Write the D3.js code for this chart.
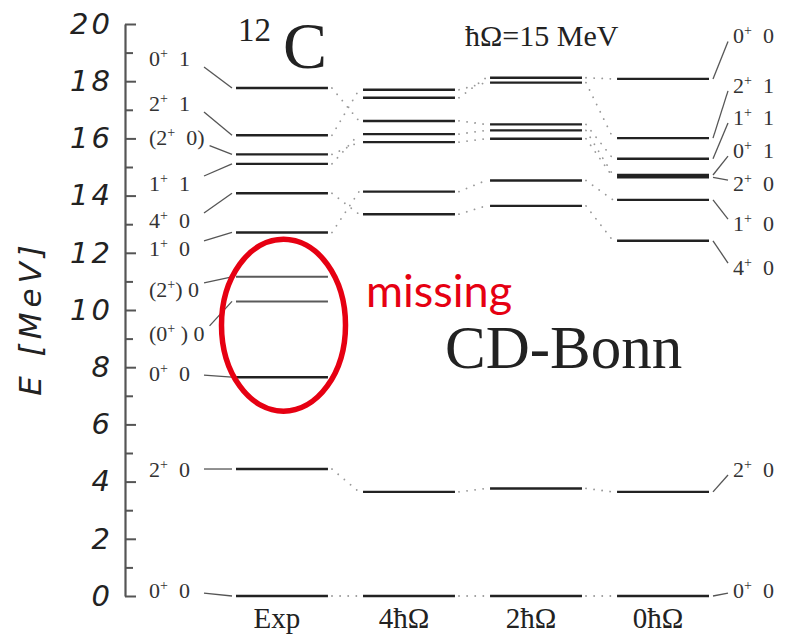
<!DOCTYPE html>
<html><head><meta charset="utf-8">
<script src="https://cdn.jsdelivr.net/npm/d3@7"></script>
<style>
  body { margin: 0; background: #fff; }
  text { white-space: pre; }
</style>
</head><body>
<svg id="chart" width="788" height="636"></svg>
<script>
// 12C spectrum: experiment vs. no-core shell model (CD-Bonn), hΩ = 15 MeV
const columns = ["Exp", "4ħΩ", "2ħΩ", "0ħΩ"];

// Experimental levels (MeV) with J^π T labels and label anchor energies
const expLevels = [0, 4.44, 7.65, 10.3, 11.16, 12.71, 14.08, 15.11, 15.44, 16.11, 17.76];
const expLabels = ["0^+  0", "2^+  0", "0^+  0", "(0^+ ) 0", "(2^+) 0", "1^+  0", "4^+  0", "1^+  1", "(2^+  0)", "2^+  1", "0^+  1"];
const expLabelAt = [0.2, 4.44, 7.8, 9.2, 10.73, 12.17, 13.15, 14.44, 16.05, 17.24, 18.81];

// Calculated levels (MeV)
const levels4 = [0, 3.64, 13.35, 14.14, 15.87, 16.15, 16.61, 17.42, 17.70];
const levels2 = [0, 3.76, 13.64, 14.53, 15.99, 16.28, 16.49, 17.95, 18.12];
const levels0 = [0, 3.64, 12.42, 13.85, 14.64, 14.72, 15.29, 16.01, 18.08];
const calcLabels = ["0^+  0", "2^+  0", "4^+  0", "1^+  0", "2^+  0", "0^+  1", "1^+  1", "2^+  1", "0^+  0"];
const calcLabelAt = [0.2, 4.44, 11.5, 13.04, 14.44, 15.59, 16.75, 17.87, 19.6];

// Correspondences between neighbouring columns: [index in left column, index in right column]
const linksExpTo4 = [[0, 0], [1, 1], [5, 3], [6, 2], [7, 5], [8, 4], [9, 8], [10, 6]];
const links4To2 = [[0, 0], [1, 1], [2, 2], [3, 3], [4, 4], [5, 5], [6, 6], [7, 8], [8, 7]];
const links2To0 = [[0, 0], [1, 1], [2, 2], [3, 3], [4, 4], [5, 5], [6, 6], [7, 7], [8, 8]];

// Axis ticks
const majorTicks = [0, 2, 4, 6, 8, 10, 12, 14, 16, 18, 20];
const minorTicks = [1, 3, 5, 7, 9, 11, 13, 15, 17, 19];

const columnLevels = [expLevels, levels4, levels2, levels0];
const columnLinks = [linksExpTo4, links4To2, links2To0];
const faintExp = [3, 4];

const svg = d3.select("#chart");
const y = d3.scaleLinear().domain([0, 20]).range([596, 24]);
const x = d3.scaleBand().domain(columns).range([236, 709]).paddingInner(0.276).paddingOuter(0);
const x0 = c => x(c);
const x1 = c => x(c) + x.bandwidth();

const serif = "'Liberation Serif', 'Times New Roman', serif";

// Vertical axis
const axisG = svg.append("g").attr("transform", "translate(125,0)");
axisG.call(d3.axisLeft(y).tickValues(majorTicks).tickSizeInner(-11).tickSizeOuter(0).tickPadding(12)
  .tickFormat(d3.format("d")));
axisG.call(g => g.select(".domain").attr("stroke", "#555").attr("stroke-width", 2.2));
axisG.selectAll(".tick line").attr("stroke", "#555").attr("stroke-width", 2);
axisG.selectAll(".tick text")
  .attr("font-family", "'DejaVu Sans', sans-serif").attr("font-style", "italic")
  .attr("font-size", 29).attr("letter-spacing", 3).attr("fill", "#222");
const minorG = svg.append("g").attr("transform", "translate(125,0)");
minorG.call(d3.axisLeft(y).tickValues(minorTicks).tickSizeInner(-8).tickSizeOuter(0).tickFormat(""));
minorG.select(".domain").remove();
minorG.selectAll(".tick line").attr("stroke", "#555").attr("stroke-width", 2);

svg.append("text")
  .attr("transform", "translate(41,318) rotate(-90)")
  .attr("text-anchor", "middle")
  .attr("font-family", "'DejaVu Sans', sans-serif").attr("font-style", "italic")
  .attr("font-size", 31).attr("letter-spacing", 5).attr("fill", "#222")
  .text("E [MeV]");

// Dotted correspondence lines
columnLinks.forEach((links, i) => {
  const a = columns[i], b = columns[i + 1];
  svg.append("g").selectAll("line").data(links).join("line")
    .attr("x1", x1(a) + 4).attr("y1", d => y(columnLevels[i][d[0]]))
    .attr("x2", x0(b) - 4).attr("y2", d => y(columnLevels[i + 1][d[1]]))
    .attr("stroke", "#999").attr("stroke-width", 1.8)
    .attr("stroke-linecap", "round").attr("stroke-dasharray", "0.1 8");
});

// Level lines
columnLevels.forEach((lv, i) => {
  const c = columns[i];
  svg.append("g").selectAll("line").data(lv).join("line")
    .attr("x1", x0(c)).attr("x2", x1(c))
    .attr("y1", d => y(d)).attr("y2", d => y(d))
    .attr("stroke", (d, j) => (i === 0 && faintExp.includes(j)) ? "#5a5a5a" : "#222")
    .attr("stroke-width", (d, j) => (i === 0 && faintExp.includes(j)) ? 2 : 2.4);
});

// Spin-parity / isospin label with a superscript parity sign
function levelLabel(g, str, px, py) {
  const t = g.append("text").attr("x", px).attr("y", py).attr("dy", "0.35em")
    .attr("font-family", serif).attr("font-size", 22).attr("fill", "#333");
  const parts = str.split("^+");
  t.append("tspan").text(parts[0]);
  if (parts.length > 1) {
    t.append("tspan").attr("dy", -8).attr("font-size", 14).text("+");
    t.append("tspan").attr("dy", 8).text(parts[1]);
  }
  return t;
}

// Experimental labels on the left
const leftG = svg.append("g");
expLevels.forEach((e, j) => {
  const ly = y(expLabelAt[j]);
  const t = levelLabel(leftG, expLabels[j], 149, ly);
  const bb = t.node().getBBox();
  const ty = y(e);
  const sy = ly + Math.max(-7, Math.min(9, (ty - ly) * 0.5));
  leftG.append("line")
    .attr("x1", Math.max(bb.x + bb.width + 5, 204)).attr("y1", sy)
    .attr("x2", x0(columns[0]) - 4).attr("y2", ty)
    .attr("stroke", "#555").attr("stroke-width", 1.3);
});

// 0ħΩ labels on the right
const rightG = svg.append("g");
levels0.forEach((e, j) => {
  const ly = y(calcLabelAt[j]);
  levelLabel(rightG, calcLabels[j], 733, ly);
  const ty = y(e);
  const ey = ly + Math.max(-4, Math.min(6, (ty - ly) * 0.5));
  rightG.append("line")
    .attr("x1", x1(columns[3]) + 4).attr("y1", ty)
    .attr("x2", 728).attr("y2", ey)
    .attr("stroke", "#555").attr("stroke-width", 1.3);
});

// Column names
svg.append("g").selectAll("text").data(columns).join("text")
  .attr("x", c => x0(c) + x.bandwidth() / 2 - 5).attr("y", 628)
  .attr("text-anchor", "middle")
  .attr("font-family", serif).attr("font-size", 29).attr("fill", "#222")
  .text(c => c);

// Nucleus and interaction
svg.append("text").attr("x", 238).attr("y", 41)
  .attr("font-family", serif).attr("font-size", 33).attr("fill", "#222").text("12");
svg.append("text").attr("x", 283).attr("y", 68)
  .attr("font-family", serif).attr("font-size", 66).attr("fill", "#222").text("C");
svg.append("text").attr("x", 465).attr("y", 46)
  .attr("font-family", serif).attr("font-size", 30).attr("fill", "#222").text("ħΩ=15 MeV");
svg.append("text").attr("x", 445).attr("y", 368)
  .attr("font-family", serif).attr("font-size", 61).attr("fill", "#222").text("CD-Bonn");

// Missing experimental states
svg.append("ellipse").attr("cx", 283.5).attr("cy", y(9.47)).attr("rx", 62).attr("ry", 86)
  .attr("fill", "none").attr("stroke", "#e60012").attr("stroke-width", 5.5);
svg.append("text").attr("x", 366).attr("y", 307)
  .attr("font-family", "Lato, 'Open Sans', sans-serif").attr("font-size", 45).attr("fill", "#e60012")
  .text("missing");
</script>
</body></html>
